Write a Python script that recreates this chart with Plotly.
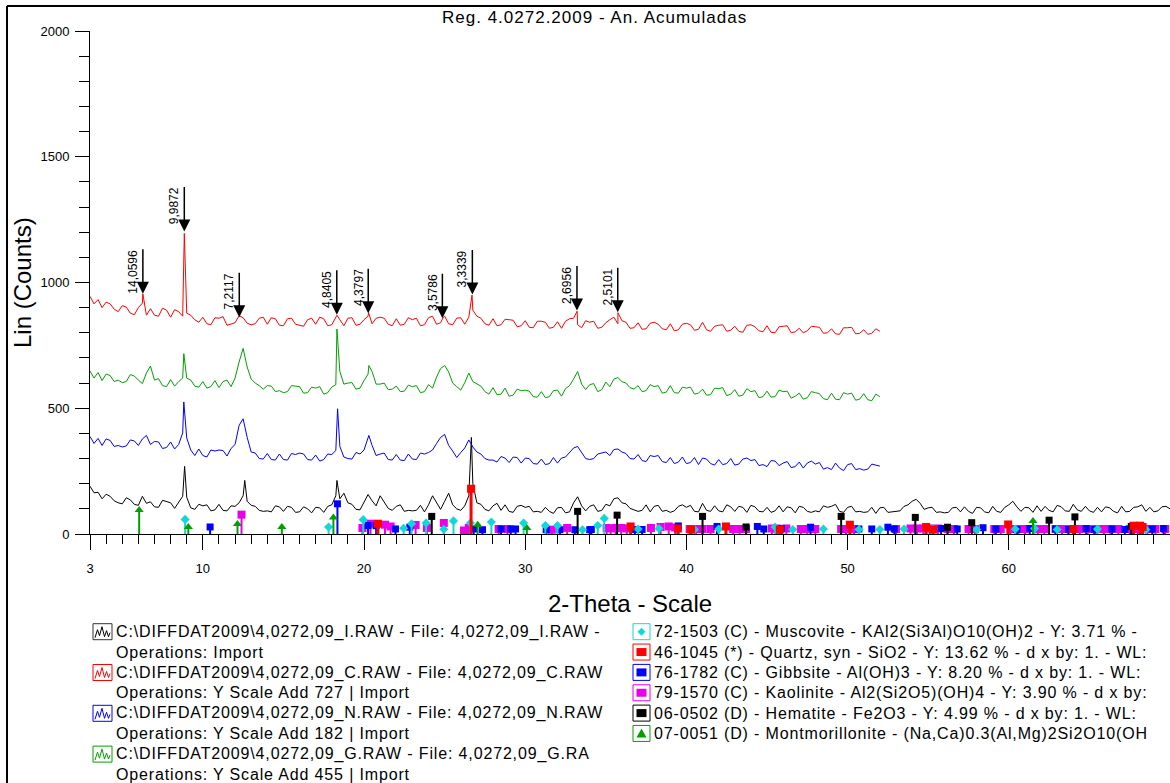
import numpy as np
import plotly.graph_objects as go

# ------------------------------------------------------------------ data
TH_START = 3.0
TH_STEP = 0.25

# C.RAW (+727), values every 0.25 deg from 3 to 52
red_base = [
    945, 915, 932, 900,  922, 915, 894, 884,  908, 902, 878, 872,  900, 918, 870, 896,
    870, 866, 898, 890,  862, 892, 884, 866,  878, 870, 852, 842,  862, 836, 832, 860,
    858, 864, 830, 836,  840, 868, 860, 838,  832, 836, 858, 862,  834, 860, 856, 830,
    828, 856, 858, 834,  830, 826, 852, 858,  834, 862, 856, 828,  832, 860, 852, 828,
    858, 860, 830, 834,  852, 866, 836, 858,  862, 858, 834, 828,  856, 830, 834, 860,
    852, 858, 828, 832,  860, 866, 834, 840,  866, 836, 832, 858,  860, 834, 862, 890,
    866, 858, 836, 830,  856, 828, 832, 854,  852, 850, 824, 828,  848, 822, 820, 846,
    846, 842, 818, 822,  844, 818, 846, 856,  858, 832, 820, 848,  842, 846, 818, 822,
    840, 852, 862, 836,  848, 842, 818, 820,  840, 814, 816, 838,  842, 834, 816, 812,
    836, 808, 812, 834,  838, 832, 810, 814,  842, 812, 806, 826,  830, 832, 806, 810,
    826, 806, 802, 830,  832, 824, 808, 804,  828, 802, 800, 824,  826, 828, 800, 804,
    818, 800, 808, 826,  824, 822, 798, 800,  816, 796, 794, 820,  820, 822, 796, 798,
    812, 794, 798, 816,  806,
]
red_peak_x = [6.28, 8.85, 12.3, 18.32, 20.28, 24.9, 26.7, 33.22, 35.75]
red_peak_y = [955, 1195, 866, 870, 880, 860, 950, 886, 880]

# G.RAW (+455)
green_base = [
    648, 620, 642, 610,  636, 630, 606, 612,  602, 606, 634, 628,  612, 598, 640, 668,
    612, 618, 590, 586,  614, 588, 606, 620,  620, 612, 588, 584,  606, 580, 586, 610,
    582, 606, 612, 586,  620, 684, 738, 664,  616, 600, 590, 576,  590, 588, 566, 570,
    562, 566, 590, 588,  586, 560, 562, 584,  580, 586, 556, 562,  584, 594, 646, 596,
    600, 602, 576, 580,  610, 636, 646, 596,  596, 600, 574, 576,  588, 566, 568, 592,
    586, 590, 562, 566,  594, 580, 624, 658,  670, 644, 600, 586,  572, 602, 640, 606,
    596, 588, 566, 556,  582, 554, 556, 580,  548, 552, 576, 570,  572, 568, 546, 544,
    566, 542, 546, 570,  572, 548, 578, 590,  616, 646, 596, 574,  594, 598, 566, 574,
    604, 586, 616, 622,  606, 600, 582, 576,  590, 566, 570, 594,  586, 590, 560, 564,
    590, 562, 560, 584,  580, 584, 556, 560,  576, 552, 554, 580,  578, 582, 550, 556,
    574, 548, 552, 578,  566, 570, 542, 546,  568, 544, 546, 572,  566, 568, 540, 548,
    560, 536, 542, 566,  562, 558, 538, 534,  560, 536, 534, 562,  556, 560, 532, 536,
    558, 534, 530, 556,  546,
]
green_peak_x = [8.82, 18.32, 20.3]
green_peak_y = [717, 815, 670]

# N.RAW (+182)
blue_base = [
    388, 360, 380, 352,  378, 372, 348, 352,  346, 350, 374, 370,  352, 378, 392, 356,
    368, 366, 340, 344,  366, 338, 356, 402,  382, 334, 312, 338,  312, 306, 334, 330,
    334, 332, 310, 340,  356, 432, 458, 384,  326, 322, 300, 298,  320, 296, 294, 318,
    296, 294, 320, 316,  322, 318, 296, 294,  314, 290, 296, 318,  316, 332, 348, 306,
    300, 298, 324, 318,  334, 382, 352, 312,  318, 322, 296, 294,  316, 294, 292, 318,
    298, 296, 322, 318,  324, 334, 360, 384,  396, 352, 330, 304,  324, 342, 374, 346,
    326, 318, 300, 294,  294, 286, 308, 302,  284, 306, 304, 282,  302, 300, 280, 278,
    298, 276, 280, 304,  282, 302, 306, 324,  342, 348, 322, 300,  296, 300, 318, 322,
    326, 312, 336, 338,  326, 320, 300, 298,  316, 292, 288, 312,  308, 312, 288, 284,
    304, 280, 286, 306,  280, 284, 304, 276,  302, 298, 280, 274,  296, 276, 280, 300,
    274, 278, 298, 302,  292, 296, 272, 276,  268, 292, 290, 272,  282, 288, 264, 268,
    286, 262, 282, 290,  278, 284, 258, 264,  256, 282, 262, 252,  276, 280, 256, 260,
    254, 258, 278, 274,  270,
]
blue_peak_x = [8.82, 18.36, 20.3]
blue_peak_y = [525, 498, 392]

# I.RAW (no offset), 3 to 70
black_base = [
    190, 164, 166, 140,  158, 150, 132, 124,  120, 144, 136, 118,  114, 150, 122, 128,
    108, 106, 134, 130,  124, 102, 128, 150,  146, 104, 98, 118,  112, 116, 92, 96,
    118, 94, 92, 112,  110, 124, 152, 130,  114, 110, 94, 90,  92, 88, 112, 108,
    90, 110, 106, 86,  88, 108, 100, 84,  106, 104, 86, 110,  116, 152, 140, 162,
    124, 118, 98, 96,  126, 157, 132, 112,  152, 124, 102, 94,  110, 116, 90, 94,
    92, 94, 114, 88,  116, 152, 122, 98,  130, 162, 116, 100,  94, 112, 152, 200,
    124, 118, 98, 92,  112, 122, 94, 116,  90, 86, 110, 114,  106, 110, 88, 90,
    86, 106, 90, 82,  104, 106, 84, 88,  124, 148, 112, 92,  110, 116, 90, 94,
    118, 112, 140, 144,  124, 120, 102, 96,  90, 94, 116, 88,  110, 114, 90, 94,
    86, 92, 110, 116,  106, 114, 90, 88,  122, 94, 90, 112,  92, 88, 116, 108,
    90, 110, 106, 86,  114, 108, 90, 88,  106, 86, 92, 112,  88, 108, 104, 84,
    110, 106, 90, 86,  92, 88, 112, 106,  110, 118, 90, 86,  106, 110, 88, 90,
    86, 88, 106, 82,  104, 106, 86, 88,  90, 92, 110, 116,  130, 138, 122, 98,
    104, 106, 86, 88,  84, 86, 104, 106,  88, 108, 90, 82,  106, 104, 88, 84,
    110, 90, 86, 106,  116, 130, 108, 90,  106, 104, 86, 112,  90, 110, 94, 88,
    114, 108, 92, 90,  118, 96, 90, 110,  92, 86, 106, 88,  108, 104, 90, 84,
    110, 88, 90, 106,  108, 116, 90, 106,  88, 92, 108, 110,  100,
]
black_peak_x = [8.87, 12.6, 18.32, 26.66]
black_peak_y = [269, 213, 213, 384]

# d-value labels on the C.RAW scan
dlabel_text = ["14,0596", "9,9872", "7,2117", "4,8405", "4,3797", "3,5786", "3,3339", "2,6956", "2,5101"]
dlabel_theta = [6.28, 8.85, 12.26, 18.31, 20.26, 24.86, 26.72, 33.21, 35.74]
dlabel_tip = [955, 1203, 862, 872, 878, 858, 952, 889, 882]

# reference pattern sticks (2-theta, height in counts)
musc_x = [8.9, 17.8, 19.95, 22.46, 22.95, 23.85, 24.95, 25.55, 26.6, 27.9, 29.9, 31.25, 32.0,
          33.55, 34.5, 34.9, 37.0, 38.3, 40.5, 42.0, 45.5, 46.6, 48.5, 50.7, 52.0, 53.5, 55.3,
          58.0, 60.4, 61.6, 63.0, 65.5, 68.5]
musc_y = [58, 28, 57, 23, 41, 44, 19, 52, 44, 48, 44, 34, 34,
          17, 34, 62, 20, 22, 18, 20, 28, 18, 20, 18, 18, 20, 22,
          18, 20, 22, 18, 20, 18]
quartz_x = [20.86, 26.64, 36.54, 39.47, 40.29, 42.45, 45.79, 50.14, 54.87, 55.3, 59.96, 64.0,
            67.74, 68.14, 68.3]
quartz_y = [41, 180, 30, 22, 18, 30, 18, 37, 28, 18, 38, 20, 33, 33, 28]
gibb_x = [10.45, 18.35, 20.25, 20.75, 21.95, 22.84, 26.8, 27.35, 28.5, 29.1, 29.4, 31.3, 32.15,
          33.08, 34.0, 34.1, 36.8, 37.25, 39.5, 41.9, 44.4, 44.8, 45.9, 47.7, 50.7, 51.5, 52.5,
          52.9, 55.8, 56.8, 58.4, 59.2, 60.5, 61.3, 62.9, 63.7, 64.8, 65.3, 66.4, 67.2, 68.9, 69.6]
gibb_y = [28, 120, 34, 33, 20, 27, 20, 17, 20, 20, 20, 17, 17,
          17, 17, 18, 18, 18, 32, 30, 30, 20, 22, 27, 20, 20, 27,
          20, 22, 20, 25, 20, 18, 22, 20, 18, 22, 18, 20, 18, 20, 22]
kaol_x = [12.4, 19.9, 20.4, 21.3, 21.65, 23.2, 23.9, 24.95, 26.2, 26.5, 28.35, 28.9, 31.65, 32.6,
          35.05, 35.3, 35.6, 35.95, 36.3, 37.8, 38.4, 38.9, 39.3, 40.2, 40.6, 41.0, 41.5, 42.9,
          43.3, 43.7, 45.3, 45.6, 46.2, 47.1, 47.5, 48.0, 49.6, 49.9, 50.4, 53.0, 53.9, 54.3,
          54.7, 55.1, 55.6, 56.2, 56.6, 57.5, 57.9, 59.1, 59.5, 60.1, 60.6, 61.0, 61.8, 62.2,
          62.9, 63.3, 63.7, 64.4, 64.9, 65.4, 65.9, 66.3, 66.8, 67.5, 68.0, 68.6, 69.1, 69.7]
kaol_y = [77, 24, 41, 37, 30, 36, 24, 44, 14, 24, 20, 20, 17, 24,
          24, 22, 24, 24, 22, 24, 28, 30, 26, 20, 20, 20, 20, 20,
          20, 20, 22, 22, 22, 20, 20, 20, 20, 20, 20, 20, 22, 22,
          22, 22, 22, 20, 20, 20, 20, 20, 20, 20, 20, 20, 20, 20,
          20, 20, 20, 20, 20, 20, 20, 20, 20, 20, 20, 20, 20, 20]
hema_x = [24.2, 33.25, 35.7, 41.0, 43.7, 49.6, 54.2, 56.2, 57.7, 62.5, 64.1, 67.6]
hema_y = [70, 90, 75, 70, 28, 70, 66, 27, 45, 55, 68, 30]
mont_x = [6.05, 9.1, 12.15, 14.9, 18.1, 27.05, 30.1, 61.5]
mont_y = [95, 28, 40, 28, 66, 37, 24, 52]

x_tick_vals = [3, 10, 20, 30, 40, 50, 60, 70]
y_tick_vals = [0, 500, 1000, 1500, 2000]

scan_legend = [
    ("C:\\DIFFDAT2009\\4,0272,09_I.RAW - File: 4,0272,09_I.RAW -", "Operations: Import"),
    ("C:\\DIFFDAT2009\\4,0272,09_C.RAW - File: 4,0272,09_C.RAW", "Operations: Y Scale Add 727 | Import"),
    ("C:\\DIFFDAT2009\\4,0272,09_N.RAW - File: 4,0272,09_N.RAW", "Operations: Y Scale Add 182 | Import"),
    ("C:\\DIFFDAT2009\\4,0272,09_G.RAW - File: 4,0272,09_G.RA", "Operations: Y Scale Add 455 | Import"),
]
phase_legend = [
    "72-1503 (C) - Muscovite - KAl2(Si3Al)O10(OH)2 - Y: 3.71 % -",
    "46-1045 (*) - Quartz, syn - SiO2 - Y: 13.62 % - d x by: 1. - WL:",
    "76-1782 (C) - Gibbsite - Al(OH)3 - Y: 8.20 % - d x by: 1. - WL:",
    "79-1570 (C) - Kaolinite - Al2(Si2O5)(OH)4 - Y: 3.90 % - d x by:",
    "06-0502 (D) - Hematite - Fe2O3 - Y: 4.99 % - d x by: 1. - WL:",
    "07-0051 (D) - Montmorillonite - (Na,Ca)0.3(Al,Mg)2Si2O10(OH",
]

# ------------------------------------------------------------------ style
BLACK, RED, BLUE, GREEN = "#000000", "#ff0000", "#0000ff", "#00a000"
CYAN, MAGENTA, STICKGREEN = "#10d8d8", "#e800e8", "#00a000"
FONT = "Liberation Sans, Arial, sans-serif"

W, H = 1170, 783
ML, MR, MT, MB = 90, 0, 31, 249
PW, PH = W - ML - MR, H - MT - MB


def px(X):
    return (X - ML) / PW


def py(Y):
    return (H - MB - Y) / PH


def series(base, pk_x, pk_y):
    x = TH_START + TH_STEP * np.arange(len(base))
    xs = np.concatenate([x, np.array(pk_x, float)])
    ys = np.concatenate([np.array(base, float), np.array(pk_y, float)])
    o = np.argsort(xs, kind="stable")
    return xs[o], ys[o]


fig = go.Figure()

for base, pkx, pky, col in [
    (black_base, black_peak_x, black_peak_y, BLACK),
    (blue_base, blue_peak_x, blue_peak_y, BLUE),
    (green_base, green_peak_x, green_peak_y, GREEN),
    (red_base, red_peak_x, red_peak_y, RED),
]:
    xs, ys = series(base, pkx, pky)
    fig.add_trace(go.Scatter(x=xs, y=ys, mode="lines", line=dict(color=col, width=1),
                             hoverinfo="skip", showlegend=False))

phases = [
    (kaol_x, kaol_y, MAGENTA, "square", 8, 2),
    (gibb_x, gibb_y, BLUE, "square", 7, 2),
    (musc_x, musc_y, CYAN, "diamond", 7, 2),
    (hema_x, hema_y, BLACK, "square", 7, 2),
    (mont_x, mont_y, STICKGREEN, "triangle-up", 8, 2),
    (quartz_x, quartz_y, RED, "square", 8, 3),
]
for sx, sy, col, sym, msz, lw in phases:
    lx, ly = [], []
    for a, b in zip(sx, sy):
        lx += [a, a, None]
        ly += [0, b, None]
    fig.add_trace(go.Scatter(x=lx, y=ly, mode="lines", line=dict(color=col, width=lw),
                             hoverinfo="skip", showlegend=False))
    fig.add_trace(go.Scatter(x=sx, y=sy, mode="markers",
                             marker=dict(symbol=sym, size=msz, color=col, line=dict(width=0)),
                             hoverinfo="skip", showlegend=False))

ann = []
shapes = []

# d-value arrows + labels
ARROW_LEN = 46
for lab, th, tip in zip(dlabel_text, dlabel_theta, dlabel_tip):
    ann.append(dict(x=th, y=tip, xref="x", yref="y", ax=0, ay=-ARROW_LEN, text="",
                    showarrow=True, arrowhead=2, arrowsize=1.6, arrowwidth=1.5,
                    arrowcolor="black"))
    ann.append(dict(x=th, y=tip, xref="x", yref="y", yshift=ARROW_LEN, xshift=-1,
                    text=lab, textangle=-90, showarrow=False, xanchor="right",
                    yanchor="top", font=dict(size=12, color="black", family=FONT)))

# titles
ann.append(dict(x=px(440), y=py(17), xref="paper", yref="paper", text="Reg. 4.0272.2009 - An. Acumuladas",
                showarrow=False, xanchor="left", yanchor="middle", align="left",
                font=dict(size=17, color="black", family=FONT)))
ann.append(dict(x=px(22), y=py(283), xref="paper", yref="paper", text="Lin (Counts)",
                textangle=-90, showarrow=False, xanchor="center", yanchor="middle",
                font=dict(size=24, color="black", family=FONT)))
ann.append(dict(x=px(630), y=py(603), xref="paper", yref="paper", text="2-Theta - Scale",
                showarrow=False, xanchor="center", yanchor="middle",
                font=dict(size=24, color="black", family=FONT)))

# frame
shapes.append(dict(type="line", xref="paper", yref="paper", x0=px(7), x1=px(1175), y0=py(6), y1=py(6),
                   line=dict(color="black", width=2)))
shapes.append(dict(type="line", xref="paper", yref="paper", x0=px(7), x1=px(7), y0=py(6), y1=py(790),
                   line=dict(color="black", width=2)))

# scan legend (left)
scan_cols = [BLACK, RED, BLUE, GREEN]
zig = [(2, 14), (4.5, 6), (6.5, 12), (9, 3), (11.5, 13), (13.5, 7), (15.5, 13), (17, 9)]
for k, ((l1, l2), col) in enumerate(zip(scan_legend, scan_cols)):
    yc = 631.7 + 40.8 * k
    x0, y0 = 93, yc - 8
    shapes.append(dict(type="rect", xref="paper", yref="paper", x0=px(x0), x1=px(x0 + 19),
                       y0=py(y0), y1=py(y0 + 16),
                       line=dict(color=col if col != BLACK else "#333333", width=1),
                       fillcolor="white"))
    path = "M " + " L ".join(f"{px(x0 + a):.5f},{py(y0 + b):.5f}" for a, b in zig)
    shapes.append(dict(type="path", xref="paper", yref="paper", path=path,
                       line=dict(color=col, width=1)))
    ann.append(dict(x=px(114), y=py(yc), xref="paper", yref="paper", text=l1, showarrow=False,
                    xanchor="left", yanchor="middle", align="left",
                    font=dict(size=16, color="black", family=FONT)))
    ann.append(dict(x=px(114), y=py(yc + 20.4), xref="paper", yref="paper", text=l2, showarrow=False,
                    xanchor="left", yanchor="middle", align="left",
                    font=dict(size=16, color="black", family=FONT)))

# phase legend (right)
phase_cols = [CYAN, RED, BLUE, MAGENTA, BLACK, STICKGREEN]
phase_syms = ["diamond", "square", "square", "square", "square", "triangle"]
for k, (txt, col, sym) in enumerate(zip(phase_legend, phase_cols, phase_syms)):
    yc = 631.7 + 20.35 * k
    x0, y0 = 633, yc - 8
    cx, cy = x0 + 8.5, yc
    shapes.append(dict(type="rect", xref="paper", yref="paper", x0=px(x0), x1=px(x0 + 17),
                       y0=py(y0), y1=py(y0 + 16), line=dict(color=col, width=1), fillcolor="white"))
    if sym == "diamond":
        pts = [(cx, cy - 4), (cx + 4, cy), (cx, cy + 4), (cx - 4, cy)]
    elif sym == "square":
        pts = [(cx - 5, cy - 4), (cx + 5, cy - 4), (cx + 5, cy + 4), (cx - 5, cy + 4)]
    else:
        pts = [(cx, cy - 5), (cx + 5, cy + 4), (cx - 5, cy + 4)]
    path = "M " + " L ".join(f"{px(a):.5f},{py(b):.5f}" for a, b in pts) + " Z"
    shapes.append(dict(type="path", xref="paper", yref="paper", path=path,
                       line=dict(color=col, width=0), fillcolor=col))
    ann.append(dict(x=px(652), y=py(yc), xref="paper", yref="paper", text=txt, showarrow=False,
                    xanchor="left", yanchor="middle", align="left",
                    font=dict(size=16, color="black", family=FONT)))

fig.update_layout(
    template="none",
    width=W, height=H, autosize=False,
    margin=dict(l=ML, r=MR, t=MT, b=MB, pad=0),
    paper_bgcolor="white", plot_bgcolor="white",
    font=dict(family=FONT, color="black", size=13),
    showlegend=False,
    hovermode=False,
    annotations=ann,
    shapes=shapes,
    xaxis=dict(range=[3, 70], showgrid=False, zeroline=False, showline=True, linecolor="black",
               linewidth=1, ticks="outside", tickmode="array", tickvals=x_tick_vals,
               ticktext=[str(v) for v in x_tick_vals], ticklen=15, tickwidth=1, tickcolor="black",
               ticklabelstandoff=7, tickfont=dict(size=13, family=FONT), automargin=False,
               minor=dict(tickmode="linear", tick0=0, dtick=1, ticks="outside", ticklen=9,
                          tickwidth=1, tickcolor="black", showgrid=False)),
    yaxis=dict(range=[0, 2000], showgrid=False, zeroline=False, showline=True, linecolor="black",
               linewidth=1, ticks="outside", tickmode="array", tickvals=y_tick_vals,
               ticktext=[str(v) for v in y_tick_vals], ticklen=14, tickwidth=1, tickcolor="black",
               ticklabelstandoff=3, tickfont=dict(size=13, family=FONT), automargin=False,
               minor=dict(tickmode="linear", tick0=0, dtick=100, ticks="outside", ticklen=10,
                          tickwidth=1, tickcolor="black", showgrid=False)),
)

post = """
document.body.style.margin = '0';
document.querySelectorAll('text.annotation-text').forEach(function (t) {
  var fs = t.style.fontSize;
  if (fs === '16px') { t.style.letterSpacing = '0.85px'; }
  if (fs === '17px') { t.style.letterSpacing = '1px'; }
});
"""

fig.write_html("out.html", config={"displayModeBar": False, "staticPlot": True}, post_script=post)
